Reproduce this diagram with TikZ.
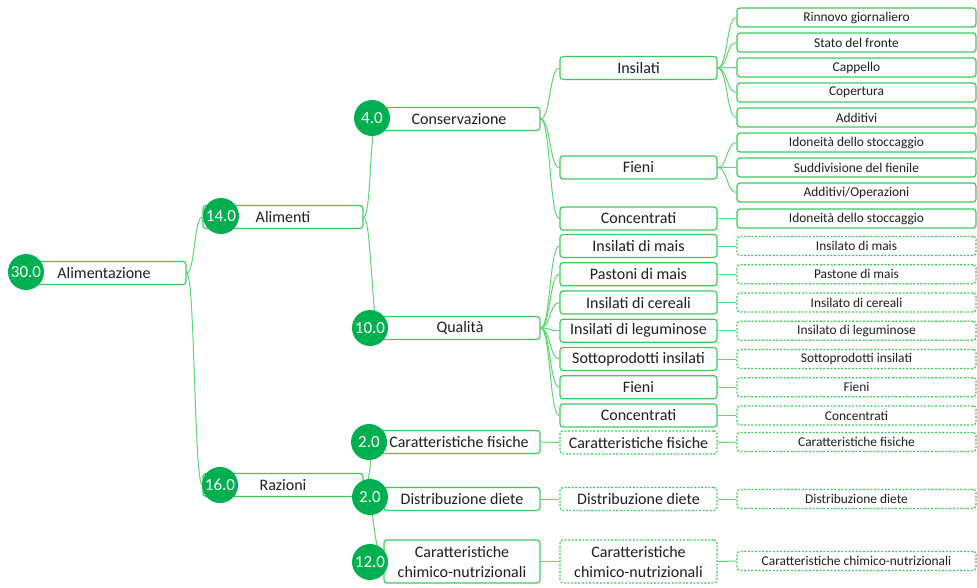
\documentclass[tikz,border=0pt]{standalone}
\usepackage{fontspec}
\setmainfont{Carlito}
\usetikzlibrary{backgrounds}
\definecolor{bgreen}{HTML}{3CCB5A}
\definecolor{cgreen}{HTML}{00B050}
\definecolor{lgreen}{HTML}{5ED472}
\definecolor{ink}{HTML}{1E1E1E}
\tikzset{
  base/.style={draw=bgreen, line width=1.2pt, rounded corners=3pt, fill=white, inner sep=0pt, text=ink},
  bigbox/.style={base, minimum height=23pt, font=\fontsize{16}{20}\selectfont, align=center},
  midbox/.style={bigbox, minimum width=157pt},
  dmid/.style={midbox, dash pattern=on 2pt off 1.6pt},
  leafbox/.style={base, minimum height=19pt, minimum width=239pt, font=\fontsize{13.4}{16}\selectfont},
  dleaf/.style={leafbox, dash pattern=on 2pt off 1.6pt},
  num/.style={circle, fill=cgreen, minimum size=36pt, inner sep=0pt, text=white, font=\fontsize{17}{17}\selectfont},
  conn/.style={draw=lgreen, line width=1pt},
  sc/.style={out=0, in=180, distance=#1}
}
\begin{document}
\begin{tikzpicture}[x=1pt, y=-1pt]
\useasboundingbox (0,0) rectangle (977,587);

% level 0
\node[bigbox, minimum width=164pt] (alim) at (104,273) {Alimentazione};
\node[num] (n30) at (26,272) {30.0};

% level 1
\node[bigbox, minimum width=160pt] (alimenti) at (283,217) {Alimenti};
\node[num] (n14) at (221,216) {14.0};
\node[bigbox, minimum width=160pt] (razioni) at (283,485) {Razioni};
\node[num] (n16) at (220,485) {16.0};

% level 2
\node[bigbox, minimum width=162pt] (cons) at (459,119) {Conservazione};
\node[num] (n4) at (372,118) {4.0};
\node[bigbox, minimum width=160pt] (qual) at (460,328) {Qualità};
\node[num] (n10) at (370,328) {10.0};
\node[bigbox, minimum width=162pt] (fis) at (459,442) {Caratteristiche fisiche};
\node[num] (nf2) at (369,442) {2.0};
\node[bigbox, minimum width=156pt] (dist) at (462,499) {Distribuzione diete};
\node[num] (nd2) at (370,497) {2.0};
\node[bigbox, minimum width=156pt, minimum height=43pt] (chim) at (462,561.5) {Caratteristiche\\chimico-nutrizionali};
\node[num] (n12) at (370,562) {12.0};

% level 3 : Conservazione
\node[midbox] (ins) at (638.5,68) {Insilati};
\node[midbox] (fie) at (638.5,167.5) {Fieni};
\node[midbox] (conc) at (638.5,218.5) {Concentrati};

% level 3 : Qualita
\node[midbox] (q1) at (638.5,246) {Insilati di mais};
\node[midbox] (q2) at (638.5,274.25) {Pastoni di mais};
\node[midbox] (q3) at (638.5,302.5) {Insilati di cereali};
\node[midbox] (q4) at (638.5,330.75) {Insilati di leguminose};
\node[midbox] (q5) at (638.5,359) {Sottoprodotti insilati};
\node[midbox] (q6) at (638.5,387.25) {Fieni};
\node[midbox] (q7) at (638.5,415.5) {Concentrati};

% level 3 : Razioni
\node[dmid] (mf) at (638.5,442.5) {Caratteristiche fisiche};
\node[dmid] (md) at (638.5,499) {Distribuzione diete};
\node[dmid, minimum height=43pt] (mc) at (638.5,561.5) {Caratteristiche\\chimico-nutrizionali};

% leaves
\node[leafbox] (l1) at (856.5,17.5) {Rinnovo giornaliero};
\node[leafbox] (l2) at (856.5,42.5) {Stato del fronte};
\node[leafbox] (l3) at (856.5,67.5) {Cappello};
\node[leafbox] (l4) at (856.5,92.5) {Copertura};
\node[leafbox] (l5) at (856.5,117.5) {Additivi};
\node[leafbox] (l6) at (856.5,142.5) {Idoneità dello stoccaggio};
\node[leafbox] (l7) at (856.5,167.5) {Suddivisione del fienile};
\node[leafbox] (l8) at (856.5,192.5) {Additivi/Operazioni};
\node[leafbox] (l9) at (856.5,218.5) {Idoneità dello stoccaggio};

\node[dleaf] (d1) at (856.5,246) {Insilato di mais};
\node[dleaf] (d2) at (856.5,274.25) {Pastone di mais};
\node[dleaf] (d3) at (856.5,302.5) {Insilato di cereali};
\node[dleaf] (d4) at (856.5,330.75) {Insilato di leguminose};
\node[dleaf] (d5) at (856.5,359) {Sottoprodotti insilati};
\node[dleaf] (d6) at (856.5,387.25) {Fieni};
\node[dleaf] (d7) at (856.5,415.5) {Concentrati};
\node[dleaf] (d8) at (856.5,442) {Caratteristiche fisiche};
\node[dleaf] (d9) at (856.5,499) {Distribuzione diete};
\node[dleaf] (d10) at (856.5,561) {Caratteristiche chimico-nutrizionali};

\begin{pgfonlayer}{background}
  \foreach \c in {alimenti, razioni}
    \draw[conn] (alim.east) to[sc=8.5pt] (\c.west);
  \foreach \c in {cons, qual}
    \draw[conn] (alimenti.east) to[sc=8pt] (\c.west);
  \foreach \c in {fis, dist, chim}
    \draw[conn] (razioni.east) to[sc=9pt] (\c.west);
  \foreach \c in {ins, fie, conc}
    \draw[conn] (cons.east) to[sc=10pt] (\c.west);
  \foreach \c in {q1, q2, q3, q4, q5, q6, q7}
    \draw[conn] (qual.east) to[sc=10pt] (\c.west);
  \foreach \c in {l1, l2, l3, l4, l5}
    \draw[conn] (ins.east) to[sc=10pt] (\c.west);
  \foreach \c in {l6, l7, l8}
    \draw[conn] (fie.east) to[sc=10pt] (\c.west);
  \draw[conn] (conc.east) -- (l9.west);
  \foreach \a/\b in {q1/d1, q2/d2, q3/d3, q4/d4, q5/d5, q6/d6, q7/d7}
    \draw[conn] (\a.east) -- (\b.west);
  \draw[conn] (fis.east) to[sc=10pt] (mf.west);
  \draw[conn] (mf.east) to[sc=10pt] (d8.west);
  \draw[conn] (dist.east) -- (md.west);
  \draw[conn] (md.east) -- (d9.west);
  \draw[conn] (chim.east) -- (mc.west);
  \draw[conn] (mc.east) -- (d10.west);
\end{pgfonlayer}
\end{tikzpicture}
\end{document}
